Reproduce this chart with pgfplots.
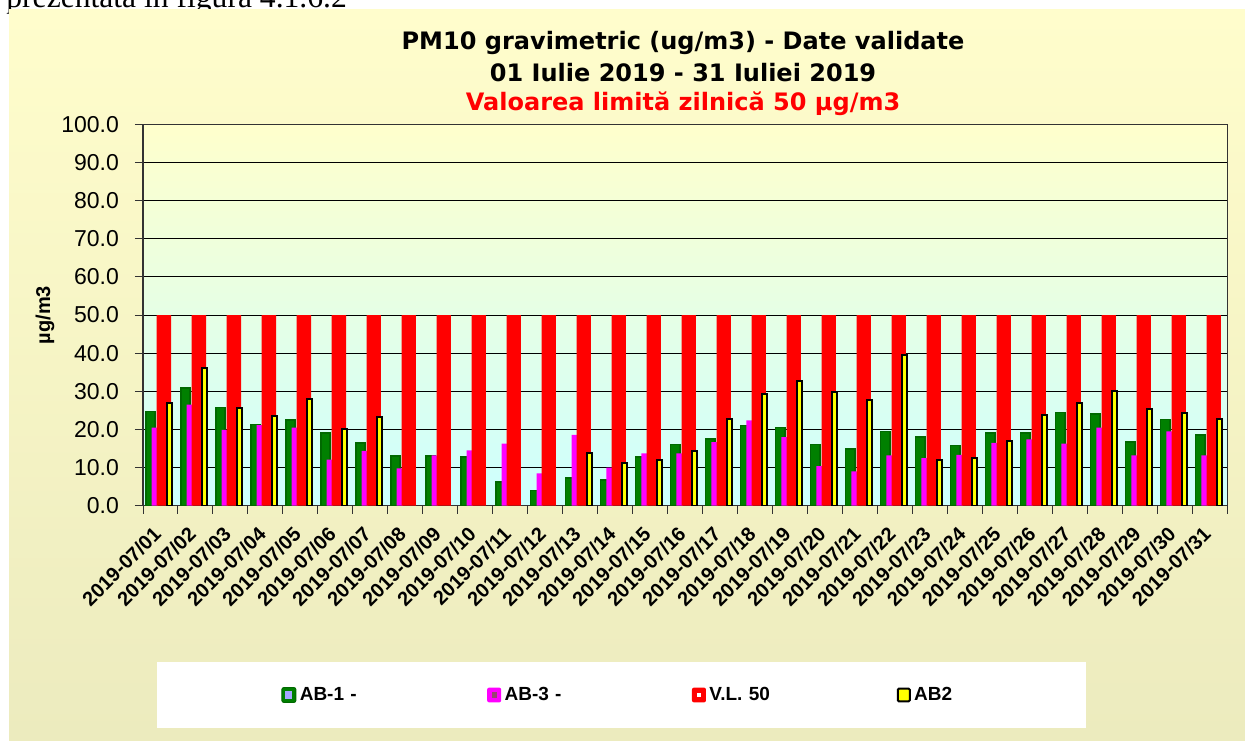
\documentclass[border=0pt]{standalone}
\usepackage{fontspec}
\setmainfont{Liberation Sans}
\newfontfamily\titlefont{DejaVu Sans}
\newfontfamily\docfont{Liberation Serif}
\usepackage{pgfplots}
\pgfplotsset{compat=1.18}
\usepackage{pgfplotstable}

\definecolor{chartTop}{RGB}{255,253,204}
\definecolor{chartBot}{RGB}{236,235,190}
\definecolor{plotTop}{RGB}{255,255,204}
\definecolor{plotBot}{RGB}{204,255,255}
\definecolor{abOne}{RGB}{0,128,0}
\definecolor{abOneEdge}{RGB}{0,105,0}
\definecolor{abThree}{RGB}{255,0,255}
\definecolor{vlRed}{RGB}{255,0,0}
\definecolor{abTwo}{RGB}{255,255,0}

% d = day index (0 = 2019-07/01)
\pgfplotstableread{
d  ab1  ab3  vl  ab2
0  24.7 20.5 50  27.0
1  30.9 26.5 50  36.0
2  25.8 19.9 50  25.6
3  21.3 21.1 50  23.5
4  22.5 20.5 50  27.9
5  19.1 12.1 50  20.0
6  16.4 14.4 50  23.2
7  13.1 9.8  50  nan
8  13.1 13.2 50  nan
9  12.8 14.5 50  nan
10 6.2  16.3 50  nan
11 4.0  8.5  50  nan
12 7.2  18.6 50  13.8
13 6.7  10.0 50  11.3
14 12.8 13.7 50  12.1
15 16.0 13.7 50  14.4
16 17.5 16.7 50  22.7
17 21.0 22.4 50  29.2
18 20.5 18.0 50  32.6
19 16.1 10.4 50  29.8
20 14.8 9.0  50  27.8
21 19.5 13.2 50  39.6
22 18.0 12.5 50  12.1
23 15.8 13.3 50  12.5
24 19.1 16.5 50  17.0
25 19.1 17.4 50  23.7
26 24.4 16.3 50  26.9
27 24.0 20.5 50  30.2
28 16.7 13.2 50  25.3
29 22.6 19.5 50  24.4
30 18.5 13.2 50  22.7
}\pmdata

\begin{document}
\begin{tikzpicture}
\path[use as bounding box] (0,0) rectangle (622.5pt,370pt);
\fill[white] (0,0) rectangle (622.5pt,370pt);
\node[anchor=base west, inner sep=0pt, font=\docfont\fontsize{15.8}{18}\selectfont]
  at (3pt,366.3pt) {prezentata in figura 4.1.6.2};
\shade[top color=chartTop, bottom color=chartBot] (4.5pt,0pt) rectangle (622.5pt,365.2pt);
\fill[white] (78.5pt,6pt) rectangle (543pt,39pt);

\node[font=\titlefont\bfseries\fontsize{12}{14}\selectfont] at (341.5pt,348.5pt)
  {PM10 gravimetric (ug/m3) - Date validate};
\node[font=\titlefont\bfseries\fontsize{12}{14}\selectfont] at (341.5pt,333.5pt)
  {01 Iulie 2019 - 31 Iuliei 2019};
\node[font=\titlefont\bfseries\fontsize{12}{14}\selectfont, text=red] at (341.5pt,318pt)
  {Valoarea limită zilnică 50 µg/m3};

\begin{axis}[
  scale only axis, width=542.4pt, height=190.7pt,
  at={(71.5pt,117.15pt)}, anchor=south west,
  xmin=-0.5, xmax=30.5, ymin=0, ymax=100,
  ytick={0,10,...,100},
  yticklabel style={font=\fontsize{11.5}{13}\selectfont, xshift=-4.5pt,
    /pgf/number format/fixed, /pgf/number format/fixed zerofill,
    /pgf/number format/precision=1, /pgf/number format/assume math mode=true},
  ymajorgrids, grid style={black, line width=0.5pt},
  axis background/.style={shade, top color=plotTop, bottom color=plotBot},
  axis line style={black!80, line width=0.6pt},
  tick pos=left, tick align=outside, major tick length=4pt,
  tick style={black!80, line width=0.5pt},
  x tick label as interval,
  xtick={-0.5,0.5,...,30.5},
  xticklabels={2019-07/01,2019-07/02,2019-07/03,2019-07/04,2019-07/05,
    2019-07/06,2019-07/07,2019-07/08,2019-07/09,2019-07/10,2019-07/11,
    2019-07/12,2019-07/13,2019-07/14,2019-07/15,2019-07/16,2019-07/17,
    2019-07/18,2019-07/19,2019-07/20,2019-07/21,2019-07/22,2019-07/23,
    2019-07/24,2019-07/25,2019-07/26,2019-07/27,2019-07/28,2019-07/29,
    2019-07/30,2019-07/31},
  xticklabel style={xshift=-1.5pt, yshift=-8.3pt, rotate=45, anchor=east, inner sep=0pt,
    font=\bfseries\fontsize{10}{12}\selectfont},
  ylabel={µg/m3},
  ylabel style={at={(axis description cs:-0.0903,0.5)}, anchor=center,
    font=\bfseries\fontsize{10}{12}\selectfont},
  ybar,
  legend columns=4,
  legend style={draw=none, fill=none, inner sep=0pt,
    at={(axis description cs:0.1272,-0.4963)}, anchor=west,
    font=\bfseries\fontsize{9.5}{11}\selectfont,
    nodes={text width=86pt, inner sep=1.2pt, align=left},
    /tikz/every odd column/.append style={column sep=0.5pt},
    /tikz/every even column/.append style={column sep=6.5pt}},
]
\addplot[fill=abOne, draw=abOneEdge, line width=0.8pt, bar width=0.27, bar shift=-0.286,
  legend image code/.code={
    \draw[fill=abOne, draw=abOneEdge, line width=0.5pt, rounded corners=1pt]
      (0pt,-3.7pt) rectangle (7pt,3.7pt);
    \fill[blue!35] (2.2pt,-1.4pt) rectangle (4.8pt,1.4pt);}]
  table[x=d, y=ab1] {\pmdata};
\addlegendentry{AB-1 -}
\addplot[fill=abThree, draw=none, bar width=0.19, bar shift=-0.16,
  legend image code/.code={
    \fill[abThree, rounded corners=1pt] (0pt,-3.7pt) rectangle (7pt,3.7pt);
    \fill[black!45!magenta] (2.2pt,-1.4pt) rectangle (4.8pt,1.4pt);}]
  table[x=d, y=ab3] {\pmdata};
\addlegendentry{AB-3 -}
\addplot[fill=vlRed, draw=none, bar width=0.41, bar shift=0.096,
  legend image code/.code={
    \fill[vlRed, rounded corners=1pt] (0pt,-3.7pt) rectangle (7pt,3.7pt);
    \fill[white] (2.7pt,-1pt) rectangle (4.3pt,1pt);}]
  table[x=d, y=vl] {\pmdata};
\addlegendentry{V.L. 50}
\addplot[fill=abTwo, draw=black, line width=1pt, bar width=0.155, bar shift=0.263,
  legend image code/.code={
    \draw[fill=abTwo, draw=black, line width=1pt, rounded corners=0.6pt]
      (0.5pt,-3.2pt) rectangle (6.5pt,3.2pt);}]
  table[x=d, y=ab2] {\pmdata};
\addlegendentry{AB2}
\end{axis}
\end{tikzpicture}
\end{document}
